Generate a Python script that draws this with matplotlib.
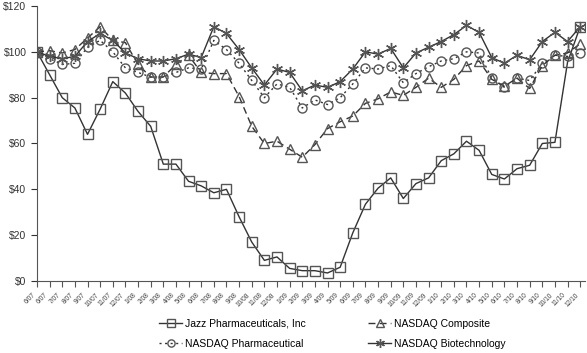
import numpy as np
import matplotlib
matplotlib.use("Agg")
import matplotlib.pyplot as plt
from matplotlib.ticker import FuncFormatter

plt.rcParams['font.family'] = ['Liberation Sans', 'DejaVu Sans']

# data
dates = ["6/07", "6/07", "7/07", "8/07", "9/07", "10/07", "11/07", "12/07",
         "1/08", "2/08", "3/08", "4/08", "5/08", "6/08", "7/08", "8/08",
         "9/08", "10/08", "11/08", "12/08", "1/09", "2/09", "3/09", "4/09",
         "5/09", "6/09", "7/09", "8/09", "9/09", "10/09", "11/09", "12/09",
         "1/10", "2/10", "3/10", "4/10", "5/10", "6/10", "7/10", "8/10",
         "9/10", "10/10", "11/10", "12/10"]

jazz = [100, 90, 80, 75.5, 64, 75, 87, 82, 74, 67.5, 51, 51, 43.5, 41.5,
        38.5, 40, 28, 17, 9, 10.5, 5.5, 4.5, 4.5, 3.5, 6, 21, 33.5, 40.5,
        45, 36, 42.5, 45, 52.5, 55.5, 61, 57, 46.5, 44.5, 49, 50.5, 60,
        60.5, 95.5, 111]

composite = [100, 100.5, 99.5, 101, 106, 111, 105, 104, 94.5, 89, 89, 94.5,
             98.5, 91, 90.5, 90.5, 80.5, 67.5, 60, 61, 57.5, 54, 59.5, 66.5,
             69.5, 72, 77.5, 79.5, 82.5, 81, 84.5, 88.5, 84.5, 88, 94, 96,
             88, 85, 88.5, 84, 94, 98.5, 99.5, 103.5]

pharma = [100, 97, 94.5, 95, 102, 105, 100, 93, 91, 89, 89, 91, 93, 92.5,
          105, 101, 95, 87.5, 80, 86, 84.5, 75.5, 79, 77, 80, 86, 93, 92.5,
          94, 86.5, 90.5, 93.5, 96, 97, 100, 99.5, 88.5, 84.5, 88.5, 87.5,
          95, 98.5, 98, 99.5]

biotech = [100, 98, 97, 98, 104.5, 108, 105, 99.5, 97, 96, 96, 97, 99, 97.5,
           111, 108, 101, 93, 85.5, 92.5, 91, 83, 85.5, 84.5, 87, 92.5, 100,
           99, 101.5, 93, 99.5, 102, 104.5, 107.5, 111.5, 108.5, 97.5, 95,
           98.5, 96.5, 104.5, 108.5, 104.5, 111]

x = np.arange(len(dates))

fig = plt.figure(figsize=(5.87, 3.53), dpi=100)
ax = fig.add_axes([0.063, 0.204, 0.934, 0.779])

ln = '#333333'
mk = '#555555'
common = dict(color=ln, lw=1.0, markerfacecolor='none', markeredgecolor=mk,
              markeredgewidth=1.0)

ax.plot(x, jazz, marker='s', ms=7, ls='-', label='Jazz Pharmaceuticals, Inc', **common)
ax.plot(x, pharma, marker='o', ms=6.5, ls=(0, (1.5, 2.5)), label='NASDAQ Pharmaceutical', **common)
ax.plot(x, composite, marker='^', ms=7, ls=(0, (5, 3)), label='NASDAQ Composite', **common)
ax.plot(x, biotech, marker=(6, 2, 0), ms=8, ls='-', label='NASDAQ Biotechnology', **common)

ax.set_xlim(0, 43.4)
ax.set_ylim(0, 120)
ax.set_yticks(np.arange(0, 121, 20))
ax.yaxis.set_major_formatter(FuncFormatter(lambda v, p: f"${int(v)}"))
ax.set_xticks(x)
ax.set_xticklabels(dates, rotation=45, ha='right', fontsize=4.8, color='#444444')
ax.tick_params(axis='y', labelsize=7.5, length=4, colors='#333333')
ax.tick_params(axis='x', length=4, colors='#555555', labelcolor='#444444')

ax.spines['top'].set_visible(False)
ax.spines['right'].set_visible(False)
ax.spines['left'].set_color('#555555')
ax.spines['bottom'].set_color('#555555')

fig.legend(loc='lower left', bbox_to_anchor=(0.255, -0.015), ncol=2, frameon=False,
           fontsize=7.5, handlelength=2.2, columnspacing=6.0, labelspacing=1.0,
           handletextpad=0.3, markerscale=0.8)

fig.savefig("out.png", dpi=100)
